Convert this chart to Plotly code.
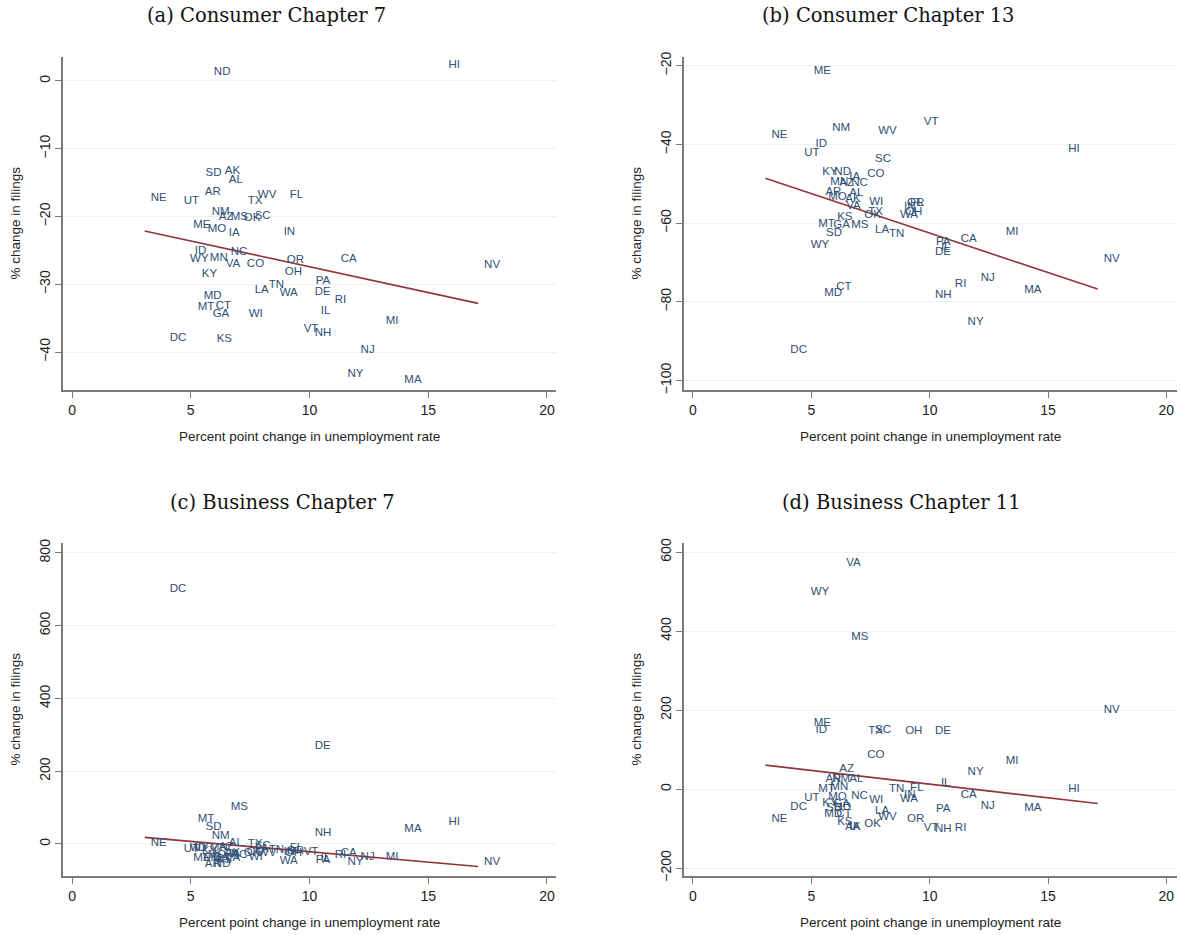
import numpy as np
import plotly.graph_objects as go

# ---------------- data ----------------
states = ["ND", "HI", "SD", "AK", "AL", "AR", "NE", "UT", "WV", "FL", "TX", "NM", "AZ",
          "MS", "OK", "SC", "ME", "MO", "IA", "IN", "ID", "NC", "WY", "MN", "VA", "CO",
          "OR", "OH", "CA", "KY", "PA", "LA", "TN", "WA", "DE", "RI", "MD", "MT", "CT",
          "GA", "WI", "IL", "VT", "NH", "DC", "KS", "NV", "MI", "NJ", "NY", "MA"]

# percentage-point change in unemployment rate
unemp_change = [5.72, 15.60, 5.37, 6.18, 6.35, 5.34, 3.06, 4.45, 7.57, 8.92, 7.15, 5.63, 5.93,
                6.43, 6.98, 7.44, 4.85, 5.46, 6.35, 8.66, 4.92, 6.43, 4.72, 5.55, 6.22, 7.11,
                8.79, 8.71, 11.06, 5.21, 10.01, 7.44, 8.03, 8.49, 9.97, 10.81, 5.29, 5.04, 5.80,
                5.67, 7.19, 10.22, 9.50, 9.97, 3.86, 5.84, 17.10, 12.96, 11.90, 11.35, 13.74]

consumer_ch7 = [1.3, 2.4, -13.6, -13.3, -14.6, -16.4, -17.3, -17.7, -16.8, -16.8, -17.8, -19.3, -20.1,
                -20.1, -20.2, -19.9, -21.2, -21.8, -22.4, -22.3, -25.1, -25.2, -26.3, -26.1, -27.0, -27.0,
                -26.4, -28.2, -26.3, -28.5, -29.5, -30.8, -30.1, -31.3, -31.1, -32.3, -31.7, -33.3, -33.2,
                -34.4, -34.4, -33.9, -36.6, -37.2, -37.9, -38.1, -27.1, -35.4, -39.7, -43.2, -44.2]

consumer_ch13 = [-47.0, -41.2, -62.5, -53.9, -52.3, -52.1, -37.6, -42.2, -36.6, -54.9, -57.2, -35.8, -49.8,
                 -60.5, -57.9, -43.7, -21.3, -53.4, -48.3, -55.9, -39.9, -49.8, -65.5, -49.6, -55.6, -47.5,
                 -54.9, -57.2, -64.0, -47.0, -64.8, -61.7, -62.7, -57.9, -67.3, -75.4, -77.7, -60.2, -76.2,
                 -60.5, -54.6, -66.0, -34.3, -78.2, -92.2, -58.5, -69.1, -62.3, -73.9, -85.1, -77.0]

business_ch7 = [-55, 60, 47, -25, 3, -55, 3, -14, -25, -11, 0, 22, -8,
                102, -25, -5, -38, -30, -28, -22, -11, -30, -12, -12, -40, -22,
                -20, -25, -25, -20, -44, -15, -18, -47, 269, -30, -40, 69, -42,
                -35, -35, -41, -22, 30, 701, -45, -49, -36, -36, -49, 41]

business_ch11 = [-45, 0, -48, -96, 25, 25, -76, -23, -71, 3, 147, 25, 51,
                 385, -89, 149, 167, -20, -96, -15, 149, -18, 499, 5, 572, 86,
                 -76, 147, -15, -35, -51, -56, 0, -25, 147, -99, -63, 0, -63,
                 -38, -28, 15, -99, -101, -46, -84, 200, 71, -43, 43, -48]

# linear-fit coefficients (intercept, slope) per panel
fit_intercept = [-19.80, -42.5, 35.5, 81.9]
fit_slope = [-0.761, -2.004, -5.69, -6.93]

panel_titles = ["(a) Consumer Chapter 7", "(b) Consumer Chapter 13",
                "(c) Business Chapter 7", "(d) Business Chapter 11"]
x_ticks = [0, 5, 10, 15, 20]
y_ticks = [[0, -10, -20, -30, -40],
           [-20, -40, -60, -80, -100],
           [0, 200, 400, 600, 800],
           [-200, 0, 200, 400, 600]]
x_title = "Percent point change in unemployment rate"
y_title = "% change in filings"

# ---------------- layout geometry ----------------
W, H = 1180, 935
series = [consumer_ch7, consumer_ch13, business_ch7, business_ch11]
x_ranges = [[-0.38, 20.38], [-0.38, 20.45], [-0.38, 20.38], [-0.38, 20.45]]
y_ranges = [[-45.6, 3.54], [-102.4, -17.8], [-88, 827], [-220, 623]]
px_x = [(63, 556), (684, 1177), (63, 556), (684, 1177)]
px_y = [(57, 390), (57, 390), (543, 876), (543, 876)]
title_cx = [266, 888, 282, 901]

label_color = "#2f4f73"
line_color = "#90353b"
axis_color = "#7a7a7a"
grid_color = "#eaf2f3"

fig = go.Figure()
xv = np.array(unemp_change)

for i, yvals in enumerate(series):
    xa = "x" if i == 0 else f"x{i+1}"
    ya = "y" if i == 0 else f"y{i+1}"
    xs = np.array([xv.min(), xv.max()])
    fig.add_trace(go.Scatter(x=xs, y=fit_intercept[i] + fit_slope[i] * xs, mode="lines",
                             line=dict(color=line_color, width=1.6),
                             xaxis=xa, yaxis=ya, showlegend=False, hoverinfo="skip"))
    fig.add_trace(go.Scatter(x=unemp_change, y=yvals, mode="markers+text", text=states,
                             textposition="middle right",
                             marker=dict(size=8, color="rgba(0,0,0,0)"),
                             textfont=dict(family="Liberation Sans, Arial", size=11.5, color=label_color),
                             xaxis=xa, yaxis=ya, showlegend=False))

layout = dict(width=W, height=H, margin=dict(l=0, r=0, t=0, b=0, autoexpand=False),
              paper_bgcolor="white", plot_bgcolor="white", showlegend=False)
annotations = []
for i in range(4):
    xk = "xaxis" if i == 0 else f"xaxis{i+1}"
    yk = "yaxis" if i == 0 else f"yaxis{i+1}"
    ya = "y" if i == 0 else f"y{i+1}"
    xa = "x" if i == 0 else f"x{i+1}"
    x0, x1 = px_x[i]
    y0, y1 = px_y[i]
    layout[xk] = dict(domain=[x0 / W, x1 / W], range=x_ranges[i], anchor=ya, automargin=False,
                      tickvals=x_ticks, ticks="outside", ticklen=6, tickwidth=1.2,
                      tickcolor=axis_color, showline=True, linecolor=axis_color, linewidth=1.5,
                      showgrid=False, zeroline=False,
                      tickfont=dict(family="Liberation Sans, Arial", size=14, color="#222"))
    layout[yk] = dict(domain=[1 - y1 / H, 1 - y0 / H], range=y_ranges[i], anchor=xa, automargin=False,
                      tickvals=y_ticks[i], ticks="outside", ticklen=6, tickwidth=1.2,
                      tickcolor=axis_color, showline=True, linecolor=axis_color, linewidth=1.5,
                      showgrid=True, gridcolor=grid_color, gridwidth=1.2, zeroline=False,
                      tickangle=-90,
                      tickfont=dict(family="Liberation Sans, Arial", size=14, color="#222"))
    annotations.append(dict(text=panel_titles[i], x=title_cx[i] / W,
                            y=1 - (y0 - 41) / H, xref="paper", yref="paper",
                            showarrow=False, xanchor="center", yanchor="middle",
                            font=dict(family="DejaVu Serif", size=19.5, color="#111")))
    annotations.append(dict(text=x_title, x=(x0 + 246) / W,
                            y=1 - (y1 + 46) / H, xref="paper", yref="paper",
                            showarrow=False, xanchor="center", yanchor="middle",
                            font=dict(family="Liberation Sans, Arial", size=13.5, color="#222")))
    annotations.append(dict(text=y_title, x=(x0 - 48) / W, y=1 - ((y0 + y1) / 2) / H,
                            xref="paper", yref="paper", textangle=-90,
                            showarrow=False, xanchor="center", yanchor="middle",
                            font=dict(family="Liberation Sans, Arial", size=13.5, color="#222")))
layout["annotations"] = annotations
fig.update_layout(**layout)
fig.write_html("out.html", config={"displayModeBar": False},
               post_script="document.body.style.margin='0px';document.body.style.padding='0px';")
